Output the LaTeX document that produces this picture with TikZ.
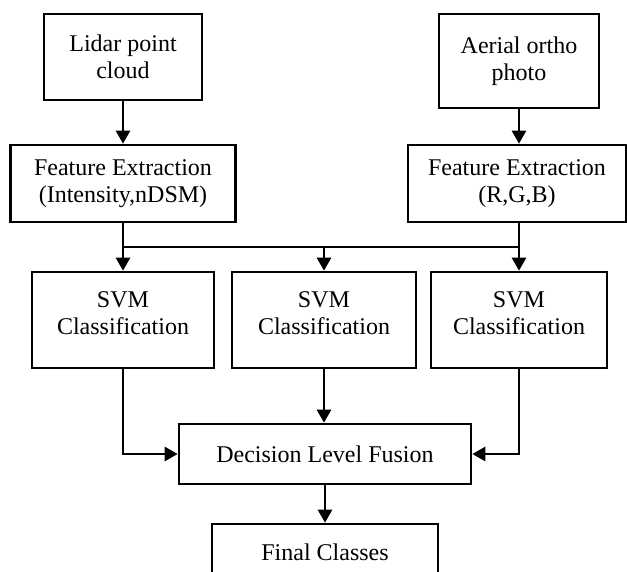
\documentclass[tikz,border=0pt]{standalone}
\usepackage{fontspec}
\setmainfont{Liberation Serif}
\usetikzlibrary{arrows.meta,positioning}
\newcommand\liftup[1]{\raisebox{4pt}[\height][\depth]{\begin{tabular}{@{}c@{}}#1\end{tabular}}}

\begin{document}
\begin{tikzpicture}[x=1pt,y=-1pt,>={Triangle[length=13pt,width=14pt]},
  blk/.style={draw,line width=2.6pt,align=center,inner sep=0pt,
    font=\fontsize{24}{27}\selectfont},
  flow/.style={->,line width=2.6pt}]
  \useasboundingbox (0,0) rectangle (627,572);
  % inputs
  \node[blk,minimum width=158pt,minimum height=86pt] (lidar) at (123,57) {Lidar point\\cloud};
  \node[blk,minimum width=160pt,minimum height=94pt] (aerial) at (519,61) {Aerial ortho\\photo};
  % features
  \node[blk,minimum width=225pt,minimum height=77pt] (featL) at (123,183.5) {Feature Extraction\\(Intensity,nDSM)};
  \node[blk,minimum width=218pt,minimum height=77pt] (featA) at (517,183.5) {Feature Extraction\\(R,G,B)};
  \coordinate (bus) at (0,247);
  % classifiers
  \node[blk,minimum width=182pt,minimum height=96pt] (svmL) at (123,320) {\liftup{SVM\\Classification}};
  \node[blk,minimum width=184pt,minimum height=96pt] (svmM) at (324,320) {\liftup{SVM\\Classification}};
  \node[blk,minimum width=176pt,minimum height=96pt] (svmR) at (519,320) {\liftup{SVM\\Classification}};
  % fusion
  \node[blk,minimum width=292pt,minimum height=60pt] (fusion) at (325,454) {Decision Level Fusion};
  \node[blk,minimum width=226pt,minimum height=56pt] (final) at (325,552) {Final Classes};

  \draw[flow] (lidar) -- (featL);
  \draw[flow] (aerial.south) -- (aerial.south |- featA.north);
  \draw[line width=2.6pt] (featL.south) -- (featL.south |- bus) -- (aerial.south |- bus) -- (aerial.south |- featA.south);
  \draw[flow] (featL.south |- bus) -- (svmL.north);
  \draw[flow] (svmM.north |- bus) -- (svmM.north);
  \draw[flow] (svmR.north |- bus) -- (svmR.north);
  \draw[flow] (svmL.south) |- (fusion.west);
  \draw[flow] (svmM.south) -- (svmM.south |- fusion.north);
  \draw[flow] (svmR.south) |- (fusion.east);
  \draw[flow] (fusion.south) -- (fusion.south |- final.north);
\end{tikzpicture}
\end{document}
